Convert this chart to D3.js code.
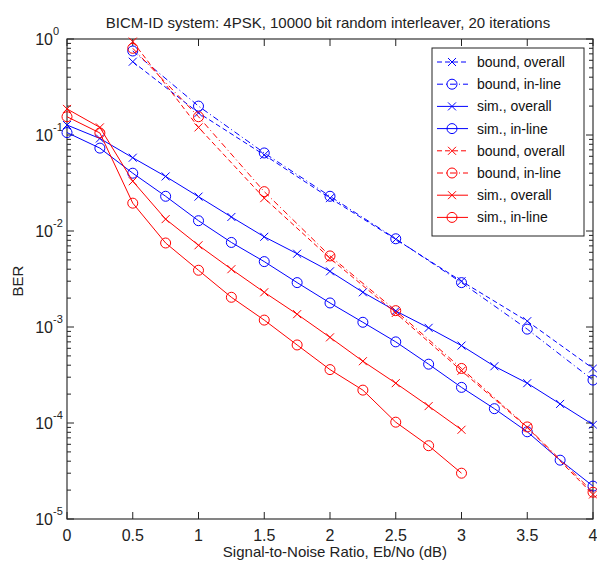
<!DOCTYPE html>
<html>
<head>
<meta charset="utf-8">
<script src="https://cdn.jsdelivr.net/npm/d3@7"></script>
<style>
  body { margin: 0; background: #fff; }
  svg { display: block; font-family: "Liberation Sans", Arial, sans-serif; }
</style>
</head>
<body>
<svg id="chart" width="597" height="569"></svg>
<script>
// SNR points (dB)
const snrBound = [0.5, 1, 1.5, 2, 2.5, 3, 3.5, 4];
const snrSimBlue = [0, 0.25, 0.5, 0.75, 1, 1.25, 1.5, 1.75, 2, 2.25, 2.5, 2.75, 3, 3.25, 3.5, 3.75, 4];
const snrSimRed = [0, 0.25, 0.5, 0.75, 1, 1.25, 1.5, 1.75, 2, 2.25, 2.5, 2.75, 3];

// BER values
const blueBoundOverall = [0.58, 0.17, 0.062, 0.022, 0.0082, 0.0030, 0.00115, 0.00037];
const blueBoundInline = [0.75, 0.20, 0.065, 0.023, 0.0083, 0.0029, 0.00095, 0.00028];
const blueSimOverall = [0.127, 0.092, 0.058, 0.037, 0.0228, 0.014, 0.0087, 0.0058, 0.0038, 0.0023, 0.00147, 0.00098, 0.00064, 0.00039, 0.00026, 0.000158, 0.000096];
const blueSimInline = [0.106, 0.073, 0.040, 0.023, 0.0128, 0.0076, 0.0048, 0.0029, 0.00178, 0.00112, 0.00070, 0.00041, 0.000235, 0.000141, 0.000081, 0.000041, 0.000022];
const redBoundOverall = [0.94, 0.12, 0.022, 0.0052, 0.0014, 0.00035, 0.00009, 0.000018];
const redBoundInline = [0.80, 0.155, 0.0257, 0.0055, 0.00148, 0.00037, 0.000091, 0.000019];
const redSimOverall = [0.187, 0.12, 0.033, 0.0133, 0.0071, 0.0040, 0.0023, 0.00136, 0.00078, 0.00044, 0.00026, 0.00015, 0.000085];
const redSimInline = [0.155, 0.105, 0.0195, 0.0075, 0.0039, 0.00204, 0.00118, 0.00065, 0.00036, 0.00022, 0.000102, 0.000058, 0.00003];

const xTicks = [0, 0.5, 1, 1.5, 2, 2.5, 3, 3.5, 4];
const xTickLabels = ['0', '0.5', '1', '1.5', '2', '2.5', '3', '3.5', '4'];
const yDecades = [0, -1, -2, -3, -4, -5];

const series = [
  { name: 'bound, overall', x: snrBound, y: blueBoundOverall, color: '#0000ff', dash: '5,3', marker: 'x' },
  { name: 'bound, in-line', x: snrBound, y: blueBoundInline, color: '#0000ff', dash: '6,3,1,3', marker: 'o' },
  { name: 'sim., overall', x: snrSimBlue, y: blueSimOverall, color: '#0000ff', dash: null, marker: 'x' },
  { name: 'sim., in-line', x: snrSimBlue, y: blueSimInline, color: '#0000ff', dash: null, marker: 'o' },
  { name: 'bound, overall', x: snrBound, y: redBoundOverall, color: '#ff0000', dash: '5,3', marker: 'x' },
  { name: 'bound, in-line', x: snrBound, y: redBoundInline, color: '#ff0000', dash: '6,3,1,3', marker: 'o' },
  { name: 'sim., overall', x: snrSimRed, y: redSimOverall, color: '#ff0000', dash: null, marker: 'x' },
  { name: 'sim., in-line', x: snrSimRed, y: redSimInline, color: '#ff0000', dash: null, marker: 'o' }
];

const plotLeft = 67, plotRight = 593, plotTop = 39, plotBottom = 519;
const svg = d3.select('#chart');

const x = d3.scaleLinear().domain([0, 4]).range([plotLeft, plotRight]);
const y = d3.scaleLog().domain([1e-5, 1]).range([plotBottom, plotTop]);

// title
svg.append('text')
  .attr('x', 328).attr('y', 28)
  .attr('text-anchor', 'middle')
  .attr('font-size', '15px')
  .attr('fill', '#222')
  .text('BICM-ID system: 4PSK, 10000 bit random interleaver, 20 iterations');

// axes box
const axisG = svg.append('g');
axisG.append('rect')
  .attr('x', plotLeft).attr('y', plotTop)
  .attr('width', plotRight - plotLeft).attr('height', plotBottom - plotTop)
  .attr('fill', 'none').attr('stroke', '#333').attr('stroke-width', 1.2);

// x ticks (inside, bottom & top)
xTicks.forEach((t, i) => {
  const px = x(t);
  axisG.append('line').attr('x1', px).attr('x2', px).attr('y1', plotBottom).attr('y2', plotBottom - 7).attr('stroke', '#222');
  axisG.append('line').attr('x1', px).attr('x2', px).attr('y1', plotTop).attr('y2', plotTop + 7).attr('stroke', '#222');
  axisG.append('text')
    .attr('x', px).attr('y', 541)
    .attr('text-anchor', 'middle')
    .attr('font-size', '16px')
    .attr('fill', '#222')
    .text(xTickLabels[i]);
});

// y ticks (major + minor, left & right)
yDecades.forEach(e => {
  const base = Math.pow(10, e);
  const py = y(base);
  axisG.append('line').attr('x1', plotLeft).attr('x2', plotLeft + 7).attr('y1', py).attr('y2', py).attr('stroke', '#222');
  axisG.append('line').attr('x1', plotRight).attr('x2', plotRight - 7).attr('y1', py).attr('y2', py).attr('stroke', '#222');
  axisG.append('text')
    .attr('x', 53).attr('y', py + 6)
    .attr('text-anchor', 'end')
    .attr('font-size', '16px')
    .attr('fill', '#222')
    .text('10');
  axisG.append('text')
    .attr('x', 53).attr('y', py - 4)
    .attr('font-size', '11px')
    .attr('fill', '#222')
    .text(e === 0 ? '0' : String(e));
  if (e > -5) {
    for (let m = 2; m <= 9; m++) {
      const my = y(base / 10 * m);
      axisG.append('line').attr('x1', plotLeft).attr('x2', plotLeft + 4).attr('y1', my).attr('y2', my).attr('stroke', '#222');
      axisG.append('line').attr('x1', plotRight).attr('x2', plotRight - 4).attr('y1', my).attr('y2', my).attr('stroke', '#222');
    }
  }
});

// axis labels
svg.append('text')
  .attr('x', 335).attr('y', 557)
  .attr('text-anchor', 'middle')
  .attr('font-size', '15px')
  .attr('fill', '#222')
  .text('Signal-to-Noise Ratio, Eb/No (dB)');

svg.append('text')
  .attr('transform', 'translate(23,281) rotate(-90)')
  .attr('text-anchor', 'middle')
  .attr('font-size', '15px')
  .attr('fill', '#222')
  .text('BER');

// markers
function drawMarker(g, mx, my, type, color) {
  if (type === 'o') {
    g.append('circle').attr('cx', mx).attr('cy', my).attr('r', 5)
      .attr('fill', 'none').attr('stroke', color).attr('stroke-width', 1);
  } else {
    const s = 4;
    g.append('path')
      .attr('d', `M${mx - s},${my - s}L${mx + s},${my + s}M${mx - s},${my + s}L${mx + s},${my - s}`)
      .attr('stroke', color).attr('stroke-width', 1).attr('fill', 'none');
  }
}

const line = d3.line().x(d => x(d[0])).y(d => y(d[1]));
const plotG = svg.append('g');

series.forEach(s => {
  const pts = s.x.map((v, i) => [v, s.y[i]]);
  plotG.append('path')
    .datum(pts)
    .attr('d', line)
    .attr('fill', 'none')
    .attr('stroke', s.color)
    .attr('stroke-width', 1)
    .attr('stroke-dasharray', s.dash);
  const mg = plotG.append('g');
  pts.forEach(p => drawMarker(mg, x(p[0]), y(p[1]), s.marker, s.color));
});

// legend
const legend = svg.append('g');
legend.append('rect')
  .attr('x', 432).attr('y', 48)
  .attr('width', 152).attr('height', 188)
  .attr('fill', '#fff').attr('stroke', '#222').attr('stroke-width', 1);

series.forEach((s, i) => {
  const ly = 62 + i * 22.2;
  legend.append('line')
    .attr('x1', 437).attr('x2', 468).attr('y1', ly).attr('y2', ly)
    .attr('stroke', s.color).attr('stroke-width', 1)
    .attr('stroke-dasharray', s.dash);
  drawMarker(legend, 452, ly, s.marker, s.color);
  legend.append('text')
    .attr('x', 477).attr('y', ly + 5)
    .attr('font-size', '14px')
    .attr('fill', '#111')
    .text(s.name);
});
</script>
</body>
</html>
